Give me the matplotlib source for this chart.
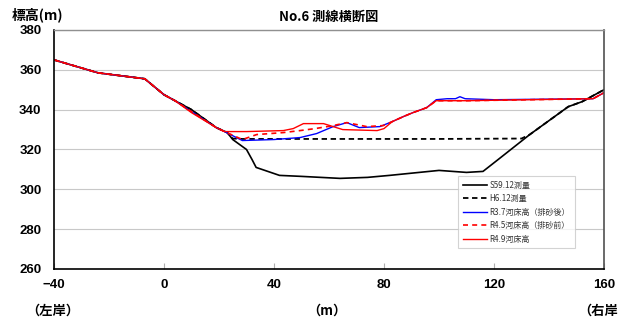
import matplotlib
matplotlib.use("Agg")
import matplotlib.pyplot as plt

plt.rcParams['font.family'] = ['Noto Sans CJK JP', 'DejaVu Sans']

# S59.12 survey
s59_x = [-40, -24, -7, 0, 4, 10, 19, 23, 25, 30, 32, 33.5, 42, 50, 64, 74, 82, 100, 110, 116, 122, 133, 147, 152, 160]
s59_y = [365, 358.5, 355.5, 347.5, 344.5, 340, 331, 328.5, 325, 320, 315, 311, 307, 306.5, 305.5, 306, 307, 309.5, 308.5, 309, 315.5, 327.5, 341.5, 344, 350]

# H6.12 survey
h6_x = [-40, -24, -7, 0, 4, 10, 19, 23, 25, 28.5, 60, 100, 130, 133, 147, 152, 160]
h6_y = [365, 358.5, 355.5, 347.5, 344.5, 340, 331, 328.5, 325.5, 325.3, 325.3, 325.3, 325.5, 327.5, 341.5, 344, 350]

# R3.7 bed (after sediment removal)
r37_x = [-40, -24, -7, 0, 4, 10, 19, 22, 28.5, 40, 49.5, 55.5, 61.5, 66.5, 71, 78.5, 83, 87, 90.5, 95.5, 99, 103, 106, 107.6, 109.5, 120, 156, 160]
r37_y = [365, 358.5, 355.5, 347.5, 344.5, 339, 331, 329, 324.5, 325, 326, 328, 331.5, 333.5, 331, 331.5, 334, 336.5, 338.5, 341, 345, 345.5, 345.5, 346.5, 345.5, 345, 345.5, 348.5]

# R4.5 bed (before sediment removal)
r45_x = [-40, -24, -7, 0, 4, 10, 19, 22, 28.5, 33.7, 43.4, 49.5, 55, 61.5, 66.5, 73.7, 79.7, 83, 87, 90.5, 95.5, 99, 110, 156, 160]
r45_y = [365, 358.5, 355.5, 347.5, 344.5, 339, 331, 329, 325, 327.5, 328.5, 329.5, 330.5, 332, 333.5, 331.5, 332, 334, 336.5, 338.5, 341, 344.5, 344.5, 345.5, 348.5]

# R4.9 bed
r49_x = [-40, -24, -7, 0, 4, 10, 19, 22, 30, 43.4, 47, 50.7, 58, 61.5, 65, 77.5, 80, 83, 87, 90.5, 95.5, 99, 110, 156, 160]
r49_y = [365, 358.5, 355.5, 347.5, 344.5, 338.5, 331, 329, 329, 329.5, 330.5, 333, 333, 331.5, 330, 329.5, 330.5, 334, 336.5, 338.5, 341, 344.5, 344.5, 345.5, 348.5]

x_ticks = [-40, 0, 40, 80, 120, 160]
x_labels = ['\u221240', '0', '40', '80', '120', '160']
y_ticks = [260, 280, 300, 320, 340, 360, 380]

fig = plt.figure(figsize=(6.18, 3.22), dpi=100)
ax = fig.add_axes([54/618, 53/322, 550/618, 239/322])

ax.plot(s59_x, s59_y, color='black', lw=1.2, label='S59.12測量')
ax.plot(h6_x, h6_y, color='black', lw=1.3, ls=(0, (3, 2)), label='H6.12測量')
ax.plot(r37_x, r37_y, color='#0000ff', lw=1.0, label='R3.7河床高（排砂後）')
ax.plot(r45_x, r45_y, color='#ff0000', lw=1.2, ls=(0, (3, 2.5)), label='R4.5河床高（排砂前）')
ax.plot(r49_x, r49_y, color='#ff0000', lw=1.0, label='R4.9河床高')

ax.set_xlim(-40, 160)
ax.set_ylim(260, 380)
ax.set_xticks(x_ticks)
ax.set_xticklabels(x_labels)
ax.set_yticks(y_ticks)
ax.grid(axis='y', color='#c8c8c8', lw=0.8)
ax.set_axisbelow(True)

for lab in ax.get_xticklabels() + ax.get_yticklabels():
    lab.set_family(['Liberation Sans', 'DejaVu Sans'])
    lab.set_fontweight('bold')
    lab.set_fontsize(9.5)
ax.tick_params(axis='x', direction='in', length=4, color='#b0b0b0', pad=7)
ax.tick_params(axis='y', length=0, pad=9)

ax.spines['left'].set_color('black')
ax.spines['left'].set_linewidth(1.2)
ax.spines['bottom'].set_color('black')
ax.spines['bottom'].set_linewidth(1.2)
ax.spines['right'].set_color('#505050')
ax.spines['right'].set_linewidth(1.2)
ax.spines['top'].set_color('#909090')
ax.spines['top'].set_linewidth(1.0)

leg = ax.legend(loc='upper left', bbox_to_anchor=(0.7345, 0.389), borderaxespad=0,
                fontsize=5.8, frameon=True, fancybox=False, handlelength=3.0,
                labelspacing=0.55, borderpad=0.6, handletextpad=0.3)
leg.get_frame().set_edgecolor('#c8c8c8')
leg.get_frame().set_linewidth(0.8)
for t in leg.get_texts():
    t.set_color('#333333')

fig.text(329/618, 1 - 17/322, 'No.6 測線横断図', ha='center', va='center', fontsize=9.5, fontweight='bold')
fig.text(12/618, 1 - 15/322, '標高(m)', ha='left', va='center', fontsize=10, fontweight='bold')
fig.text(26/618, 1 - 311/322, '（左岸）', ha='left', va='center', fontsize=9.5, fontweight='bold')
fig.text(327/618, 1 - 311/322, '（m）', ha='center', va='center', fontsize=9.5, fontweight='bold')
fig.text(578/618, 1 - 311/322, '（右岸）', ha='left', va='center', fontsize=9.5, fontweight='bold')

fig.savefig('out.png', dpi=100)
